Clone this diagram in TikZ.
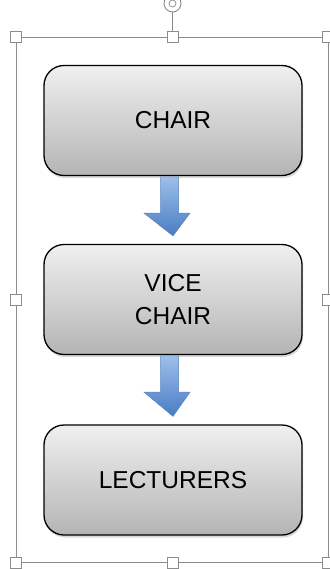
\documentclass[tikz,border=0pt]{standalone}
\usepackage{fontspec}
\setmainfont{Liberation Sans}
\usetikzlibrary{shadows,calc}
\definecolor{boxtop}{HTML}{F0F0F0}
\definecolor{boxbot}{HTML}{B4B4B4}
\definecolor{arrtop}{HTML}{9DBFEA}
\definecolor{arrbot}{HTML}{4A7CC4}
\definecolor{arredge}{HTML}{5A84BC}
\definecolor{framecol}{HTML}{8C8C8C}
\tikzset{
  rolebox/.style={draw=black, line width=1.3pt, rounded corners=20pt,
    minimum width=258pt, minimum height=110pt, align=center,
    top color=boxtop, bottom color=boxbot,
    drop shadow={opacity=0.3, shadow xshift=1pt, shadow yshift=-2.5pt},
    font=\fontsize{24.5}{33}\selectfont},
  downarrow/.style={draw=arredge, line width=0.5pt, top color=arrtop, bottom color=arrbot},
  frameline/.style={draw=framecol, line width=0.9pt},
  handle/.style={draw=framecol, fill=white, line width=0.8pt, minimum size=11pt,
    inner sep=0pt, rectangle}
}
\begin{document}
\begin{tikzpicture}[x=1pt, y=-1pt]
\useasboundingbox (0,0) rectangle (329,569);
% selection frame with rotation handle
\draw[frameline] (16,37) rectangle (328,562.5);
\draw[frameline] (172.5,37) -- (172.5,12);
\draw[frameline, fill=white] (172.5,3.5) circle (8.5pt);
\draw[framecol, line width=0.7pt] (172.5,3.5) circle (3.5pt);
% role boxes
\node[rolebox] (chair) at (173,120.5) {CHAIR};
\node[rolebox] (vice) at (173,299.5) {VICE\\CHAIR};
\node[rolebox] (lect) at (173,480) {LECTURERS};
% block arrows between the boxes
\foreach \a/\b in {chair/vice, vice/lect}{
  \path[downarrow]
    ($(\a.south)+(-12.5,0.8)$) -- ($(\a.south)+(-12.5,37)$) --
    ($(\a.south)+(-29,37)$) -- ($(\b.north)+(0,-8)$) --
    ($(\a.south)+(17,37)$) -- ($(\a.south)+(5.5,37)$) --
    ($(\a.south)+(5.5,0.8)$) -- cycle;
}
% sizing handles
\foreach \p/\q in {16/37, 172.5/37, 328/37, 16/299.5, 328/299.5, 16/562.5, 172.5/562.5, 328/562.5}{
  \node[handle] at (\p,\q) {};
}
\end{tikzpicture}
\end{document}
